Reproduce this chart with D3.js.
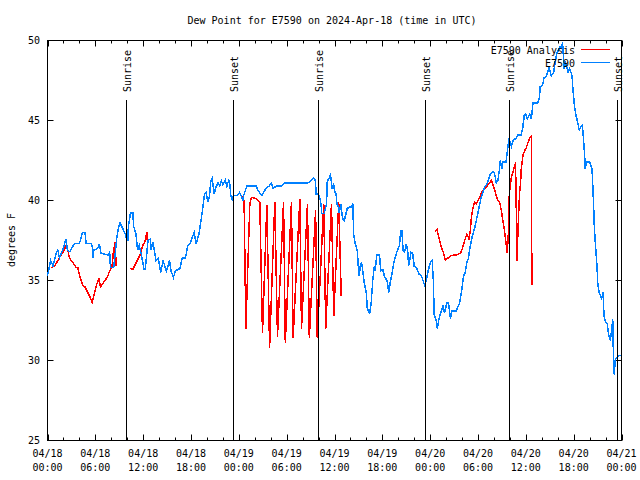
<!DOCTYPE html>
<html><head><meta charset="utf-8">
<script src="https://cdn.jsdelivr.net/npm/d3@7"></script>
<style>
body{margin:0;background:#fff;}
svg{display:block;}
text{font-family:"DejaVu Sans Mono",monospace;font-size:10px;fill:#000;}
</style></head><body>
<svg id="c" width="640" height="480"></svg>
<script>
const title = "Dew Point for E7590 on 2024-Apr-18 (time in UTC)";
const yLabel = "degrees F";
const yTicks = [25, 30, 35, 40, 45, 50];
const xTickHours = [0, 6, 12, 18, 24, 30, 36, 42, 48, 54, 60, 66, 72];
const xTickDates = ["04/18","04/18","04/18","04/18","04/19","04/19","04/19","04/19","04/20","04/20","04/20","04/20","04/21"];
const xTickTimes = ["00:00","06:00","12:00","18:00","00:00","06:00","12:00","18:00","00:00","06:00","12:00","18:00","00:00"];
const sunHours = [9.88, 23.29, 33.94, 47.4, 57.88, 71.48];
const sunLabels = ["Sunrise","Sunset","Sunrise","Sunset","Sunrise","Sunset"];
const seriesNames = ["E7590 Analysis", "E7590"];
const seriesColors = ["#ff0000", "#0080ff"];

// hours since 04/18 00:00 UTC, dew point (F); null = gap
const analysis = [
[0.4,35.8],[0.9,35.9],[1.3,36.25],[1.7,36.6],[2.1,36.9],[2.35,37.2],[2.55,36.9],[2.75,36.4],[3.2,36.1],[3.6,35.8],[3.8,35.8],[4.1,35.2],[4.4,34.7],[4.7,34.6],[5.05,34.25],[5.4,33.9],[5.6,33.6],[5.9,34.2],[6.2,34.8],[6.45,35.1],[6.65,34.6],[7.05,34.9],[7.5,35.2],[7.8,35.6],[8.1,35.9],[8.2,36.4],[8.3,37.1],[8.4,36.6],[8.5,37.4],[8.6,35.9],
null,
[10.4,35.75],[10.7,35.7],[11.1,36.1],[11.4,36.4],[11.7,36.7],[11.95,37.2],[12.2,37.4],[12.45,38.0],[12.55,37.3],
null,
[24.34,40.3],[24.66,40.0],[24.88,32.0],[25.38,39.8],[25.59,40.2],[26.22,40.1],[26.63,39.9],[26.97,31.7],[27.51,39.7],[27.86,30.8],[28.51,39.9],[28.85,31.5],[29.61,39.9],[29.83,31.1],[30.6,39.9],[30.81,31.4],[31.65,40.1],[31.86,32.0],[32.61,39.8],[32.84,31.4],[33.63,39.4],[33.84,31.4],[34.65,39.8],[34.9,32.0],[35.62,39.8],[35.91,32.8],[36.53,39.9],[36.85,34.0],
null,
[48.57,38.06],[48.85,38.2],[49.1,37.7],[49.4,37.1],[49.69,36.7],[49.9,36.25],[50.23,36.4],[50.66,36.56],[51.28,36.6],[51.79,36.7],[52.04,37.0],[52.32,37.5],[52.61,37.9],[52.86,37.6],[53.04,38.1],[53.16,38.9],[53.36,39.5],[53.58,39.9],[53.79,39.8],[53.99,40.0],[54.29,40.3],[54.54,40.6],[54.83,40.7],[55.12,40.9],[55.46,41.1],[55.67,41.25],[55.87,41.0],[56.08,40.7],[56.3,40.3],[56.5,40.0],[56.71,39.9],[56.92,39.4],[57.12,38.75],[57.33,38.1],[57.55,37.2],[57.67,36.75],[57.84,38.25],[57.88,39.9],[57.96,40.6],[58.17,41.4],[58.37,41.75],[58.59,42.2],[58.71,42.3],[58.8,39.5],[58.88,36.25],[59.0,37.9],[59.09,39.1],[59.22,40.5],[59.34,41.1],[59.43,42.0],[59.63,42.8],[59.84,43.1],[60.06,43.3],[60.26,43.6],[60.47,43.9],[60.68,44.0],[60.76,34.7]
];

const observed = [
[0.0,35.3],[0.4,36.25],[0.7,35.9],[1.1,36.7],[1.3,36.9],[1.5,36.4],[1.9,36.9],[2.1,37.2],[2.3,37.6],[2.5,36.9],[2.8,36.8],[3.0,37.0],[3.4,37.3],[4.0,37.3],[4.4,38.0],[4.7,38.0],[4.85,37.3],[5.5,37.3],[5.65,37.0],[5.7,36.4],[5.8,36.9],[6.3,37.0],[6.5,37.3],[6.7,36.7],[7.6,36.6],[7.8,36.75],[7.9,35.8],[8.3,35.8],[8.5,36.7],[8.7,37.7],[8.9,38.3],[9.1,38.6],[9.45,38.25],[9.75,37.9],[9.9,37.6],[10.07,37.5],[10.15,38.4],[10.4,39.2],[10.7,39.25],[10.8,38.4],[11.1,37.9],[11.3,36.9],[11.5,37.2],[11.75,36.7],[12.1,35.7],[12.25,35.7],[12.4,36.4],[12.6,37.5],[12.9,37.6],[13.0,36.9],[13.2,37.4],[13.4,36.9],[13.6,36.25],[13.9,36.4],[14.2,35.5],[14.5,36.25],[14.9,35.6],[15.1,35.9],[15.3,36.25],[15.5,35.6],[15.8,35.2],[16.05,35.6],[16.6,35.75],[16.9,36.4],[17.3,36.4],[17.6,37.2],[17.9,37.3],[18.15,37.7],[18.4,38.0],[18.65,37.3],[19.0,37.9],[19.3,38.9],[19.5,39.6],[19.7,40.4],[19.9,40.5],[20.1,39.9],[20.3,40.2],[20.5,41.25],[20.65,41.4],[20.9,40.4],[21.1,40.8],[21.4,41.1],[21.6,40.9],[21.8,41.25],[22.0,41.0],[22.3,41.3],[22.5,40.9],[22.75,41.3],[22.9,40.9],[23.0,40.3],[23.2,40.0],[23.3,40.3],[23.75,40.3],[24.1,40.5],[24.3,40.3],[24.5,40.0],[24.6,40.3],[25.0,40.9],[25.3,40.9],[26.0,40.9],[26.2,40.9],[26.4,40.6],[26.6,40.5],[26.9,40.3],[27.2,40.6],[27.5,40.8],[27.8,40.9],[28.1,41.1],[28.3,40.75],[28.7,40.9],[29.0,40.9],[29.3,40.9],[29.7,41.1],[30.1,41.1],[31.0,41.1],[31.8,41.1],[32.65,41.1],[33.1,41.25],[33.4,41.4],[33.6,41.25],[33.7,40.4],[33.9,40.4],[34.1,40.3],[34.3,39.8],[34.4,39.2],[34.7,39.2],[35.0,39.8],[35.1,41.25],[35.25,41.3],[35.5,41.6],[35.7,40.8],[35.9,41.0],[36.0,40.6],[36.2,40.4],[36.3,39.8],[36.5,39.6],[36.6,39.2],[36.8,39.8],[37.0,38.9],[37.2,38.75],[37.3,38.9],[37.6,39.5],[37.9,39.6],[38.1,39.6],[38.3,39.8],[38.4,37.9],[38.6,37.3],[38.85,36.9],[39.0,35.8],[39.1,35.3],[39.25,36.0],[39.4,36.1],[39.55,35.6],[39.75,34.8],[40.0,34.2],[40.1,33.3],[40.4,32.9],[40.6,33.6],[40.8,35.0],[41.0,35.9],[41.1,35.6],[41.3,36.6],[41.65,36.6],[41.8,35.6],[42.05,35.7],[42.3,35.2],[42.6,35.0],[42.8,34.25],[43.0,34.9],[43.2,35.4],[43.4,36.0],[43.5,36.25],[43.8,36.75],[44.15,37.2],[44.3,38.1],[44.45,38.1],[44.6,36.9],[44.8,36.8],[45.0,37.3],[45.2,36.75],[45.3,35.9],[45.6,36.75],[45.8,36.7],[46.0,35.9],[46.3,35.8],[46.6,35.4],[46.9,35.3],[47.1,35.0],[47.3,34.7],[47.5,35.0],[47.7,35.5],[48.0,36.1],[48.25,36.25],[48.4,35.0],[48.5,32.9],[48.75,32.5],[48.9,32.0],[49.1,32.6],[49.4,33.1],[49.6,33.4],[49.8,33.0],[50.1,33.6],[50.3,33.6],[50.55,32.6],[50.7,33.1],[51.3,33.1],[51.5,33.4],[51.7,33.6],[51.9,34.2],[52.2,35.3],[52.4,35.5],[52.6,36.1],[52.8,36.4],[53.0,37.1],[53.3,37.8],[53.6,38.3],[53.85,38.9],[54.1,39.5],[54.4,40.2],[54.8,40.8],[55.2,41.1],[55.5,41.6],[55.85,41.8],[56.05,41.75],[56.3,41.1],[56.5,41.25],[56.7,42.0],[56.8,42.5],[57.0,42.0],[57.1,42.4],[57.5,42.4],[57.7,43.1],[57.85,43.8],[58.0,43.7],[58.2,43.4],[58.4,43.75],[58.8,43.9],[59.0,44.1],[59.4,44.1],[59.6,44.5],[59.8,45.3],[60.0,45.4],[60.2,45.1],[60.5,45.4],[60.7,45.1],[60.9,46.1],[61.5,46.1],[61.7,46.4],[61.8,47.1],[62.1,47.2],[62.3,47.7],[62.5,47.7],[62.8,48.1],[62.9,48.3],[63.2,47.8],[63.5,48.0],[63.7,48.75],[63.9,49.2],[64.1,49.4],[64.3,49.6],[64.5,49.5],[64.6,49.9],[64.7,49.1],[64.8,48.25],[65.0,48.6],[65.3,48.0],[65.5,48.25],[65.8,47.8],[65.9,47.0],[66.1,45.9],[66.3,45.3],[66.5,44.9],[66.7,44.4],[66.9,44.6],[67.1,44.7],[67.3,43.4],[67.4,42.6],[67.45,42.0],[67.6,42.4],[68.0,42.4],[68.3,42.0],[68.4,40.9],[68.5,39.7],[68.6,38.25],[68.8,36.75],[68.95,35.75],[69.0,34.9],[69.2,34.25],[69.5,33.9],[69.7,34.25],[69.8,32.8],[70.0,32.4],[70.2,32.3],[70.4,31.6],[70.6,31.25],[70.8,32.1],[70.9,32.6],[71.0,30.0],[71.1,29.1],[71.2,30.0],[71.4,30.2],[71.7,30.3],[71.9,30.3]
];

const L = 47.5, R = 621.5, T = 40.5, B = 440.5;
const svg = d3.select("#c");
const x = d3.scaleLinear().domain([0, 72]).range([L, R]);
const y = d3.scaleLinear().domain([25, 50]).range([B, T]);

// frame
svg.append("rect").attr("x", L).attr("y", T).attr("width", R - L).attr("height", B - T)
  .attr("fill", "none").attr("stroke", "#000").attr("stroke-width", 1);

// ticks
const minorHours = d3.range(0, 73, 2).filter(h => h % 6 !== 0);
function xTicks(hours, len) {
  hours.forEach(h => {
    const px = Math.round(x(h)) + 0.5;
    svg.append("line").attr("x1", px).attr("x2", px).attr("y1", B).attr("y2", B - len).attr("stroke", "#000");
    svg.append("line").attr("x1", px).attr("x2", px).attr("y1", T).attr("y2", T + len).attr("stroke", "#000");
  });
}
xTicks(xTickHours, 6);
xTicks(minorHours, 3);
yTicks.forEach(v => {
  const py = y(v);
  svg.append("line").attr("x1", L).attr("x2", L + 6).attr("y1", py).attr("y2", py).attr("stroke", "#000");
  svg.append("line").attr("x1", R).attr("x2", R - 6).attr("y1", py).attr("y2", py).attr("stroke", "#000");
  svg.append("text").attr("x", 40).attr("y", py + 3.5).attr("text-anchor", "end").text(v);
});
xTickHours.forEach((h, i) => {
  svg.append("text").attr("x", x(h)).attr("y", 457).attr("text-anchor", "middle").text(xTickDates[i]);
  svg.append("text").attr("x", x(h)).attr("y", 471).attr("text-anchor", "middle").text(xTickTimes[i]);
});

// title & y label
svg.append("text").attr("x", 332).attr("y", 24).attr("text-anchor", "middle").text(title);
svg.append("text").attr("transform", "translate(15,240) rotate(-90)").attr("text-anchor", "middle").text(yLabel);

// data lines
const line = d3.line().defined(d => d !== null).x(d => x(d[0])).y(d => y(d[1]));
svg.append("path").datum(analysis).attr("d", line).attr("fill", "none")
  .attr("stroke", seriesColors[0]).attr("stroke-width", 1.5).attr("shape-rendering", "crispEdges");
svg.append("path").datum(observed).attr("d", line).attr("fill", "none")
  .attr("stroke", seriesColors[1]).attr("stroke-width", 1.5).attr("shape-rendering", "crispEdges");

// sunrise / sunset
sunHours.forEach((h, i) => {
  const px = Math.round(x(h)) + 0.5;
  svg.append("line").attr("x1", px).attr("x2", px).attr("y1", 100).attr("y2", B).attr("stroke", "#000");
  svg.append("text").attr("transform", `translate(${px + 4},92) rotate(-90)`).attr("text-anchor", "start").text(sunLabels[i]);
});

// legend
seriesNames.forEach((n, i) => {
  const ly = 49.5 + i * 13;
  svg.append("text").attr("x", 575).attr("y", ly + 4).attr("text-anchor", "end").text(n);
  svg.append("line").attr("x1", 581).attr("x2", 610).attr("y1", ly).attr("y2", ly).attr("stroke", seriesColors[i]);
});
</script>
</body></html>
